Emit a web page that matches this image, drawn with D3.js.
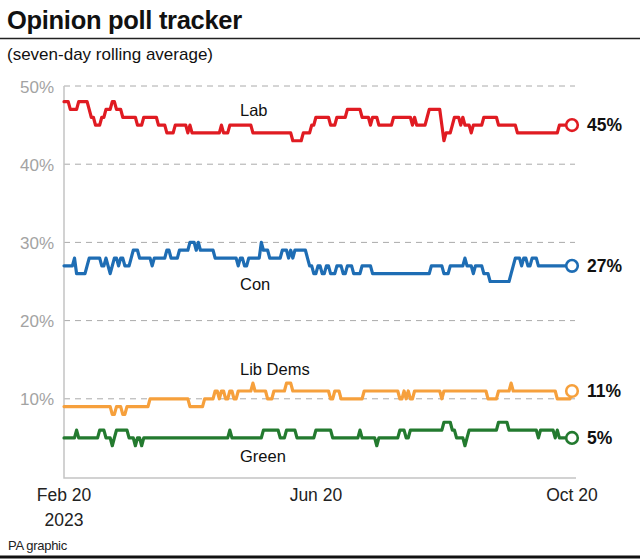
<!DOCTYPE html>
<html><head><meta charset="utf-8">
<script src="https://cdn.jsdelivr.net/npm/d3@7"></script>
<style>
html,body{margin:0;padding:0;background:#fff;}
svg{display:block;font-family:"Liberation Sans",Arial,sans-serif;}
</style></head><body>
<svg id="chart" width="640" height="559"></svg>
<script>
// ---------- DATA (seven-day rolling average, daily from Feb 20 2023) ----------
const startDate = "2023-02-20";
const endDate = "2023-10-20";
const parties = ["Lab", "Con", "Lib Dems", "Green"];

const lab = [
48,48,48,47,47,47,47,48,48,48,48,48,
47,46,46,45,45,45,46,46,47,47,47,48,48,
47,47,47,46,46,46,46,46,46,46,45,45,45,
46,46,46,46,46,46,46,45,45,45,45,
44,44,44,44,45,45,45,45,45,45,44,45,
44,44,44,44,44,44,44,44,44,44,44,44,44,44,
45,44,44,44,
45,45,45,45,45,45,45,45,45,45,45,
44,44,44,44,44,44,44,44,44,44,44,44,44,44,44,44,44,44,44,
43,43,43,43,43,44,44,44,44,45,45,
46,46,46,46,46,46,46,45,45,45,
46,46,46,46,46,47,47,47,47,47,47,47,
46,46,46,46,45,46,46,46,
45,45,45,45,45,45,45,
46,46,46,46,46,46,46,46,46,45,46,
45,45,45,45,45,46,
47,47,47,47,47,47,45,43,44,44,44,
45,46,46,46,45,46,45,45,45,44,
45,45,45,45,45,
46,46,46,46,46,46,46,
45,45,45,45,45,45,45,45,45,
44,44,44,44,44,44,44,44,44,44,44,44,44,44,44,44,44,44,44,44,
45,45,45,45,45,45,45];

const con = [
27,27,27,27,27,28,26,26,26,26,26,27,
28,28,28,28,28,28,27,27,28,27,26,27,
28,28,27,28,28,27,27,27,28,
29,29,29,28,28,28,28,28,28,27,
28,28,28,28,28,28,29,29,
28,28,28,28,29,29,29,29,29,
30,30,30,29,30,
29,29,29,29,29,29,29,
28,28,28,28,28,28,28,28,28,28,28,
27,28,28,27,27,
28,28,28,28,28,28,30,29,29,29,
28,28,28,28,28,28,29,29,29,28,29,28,
29,29,29,29,29,29,28,27,27,
26,26,27,27,26,26,27,27,26,26,26,
27,27,27,26,26,27,27,27,26,26,26,26,
27,27,27,27,27,
26,26,26,26,26,26,26,26,26,26,26,26,26,26,26,26,26,26,26,26,26,26,26,26,26,26,26,26,
27,27,27,27,27,27,26,26,26,
27,27,27,27,27,27,27,28,27,27,27,26,
27,27,27,27,26,26,26,
25,25,25,25,25,25,25,25,25,25,
26,27,28,28,28,27,28,28,27,27,28,28,28,
27,27,27,27,27,27,27,27,27,27,27,27,27,27,27,27,27];

const libDems = [
9,9,9,9,9,9,9,9,9,9,9,9,9,9,9,9,9,9,9,9,9,9,9,
8,8,9,9,9,8,8,
9,9,9,9,9,9,9,9,9,9,9,
10,10,10,10,10,10,10,10,10,10,10,10,10,10,10,10,10,10,10,
9,9,9,9,9,9,9,
10,10,10,10,10,
11,11,10,11,11,10,10,11,11,10,10,
11,11,11,11,11,11,11,12,
11,11,11,11,11,11,10,10,10,
11,11,11,11,11,11,12,12,12,
11,11,11,11,11,11,11,11,11,11,11,11,11,11,11,11,11,11,
10,10,11,11,11,
10,10,10,10,10,10,10,10,10,10,10,
11,11,11,11,11,11,11,11,11,11,11,11,11,11,11,11,11,
10,10,11,10,11,10,10,
11,11,11,11,11,11,11,11,11,11,11,11,11,
10,
11,11,11,11,11,11,11,11,11,11,11,11,11,11,11,11,11,11,11,11,11,
10,10,10,10,10,
11,11,11,11,11,11,12,
11,11,11,11,11,11,11,11,11,11,11,11,11,11,11,11,11,11,11,11,11,
10,10,10,10,10,10,10,11];

const green = [
5,5,5,5,5,5,6,
5,5,5,5,5,5,5,5,5,5,
6,6,6,5,5,5,4,5,
6,6,6,6,6,6,5,5,5,4,5,5,4,
5,5,5,5,5,5,5,5,5,5,5,5,5,5,5,5,5,5,5,5,5,5,5,5,5,5,5,5,5,5,5,5,5,5,5,5,5,5,5,5,5,
6,
5,5,5,5,5,5,5,5,5,5,5,5,5,5,5,
6,6,6,6,6,6,6,6,
5,5,5,6,6,6,6,6,
5,5,5,5,5,5,5,5,5,
6,6,6,6,6,6,6,6,
5,5,5,5,5,5,5,5,5,5,5,5,5,
6,
5,5,5,5,5,5,5,4,
5,5,5,5,5,5,5,5,5,5,
6,6,6,5,5,
6,6,6,6,6,6,6,6,6,6,6,6,6,6,6,6,
7,7,7,7,6,6,5,5,5,5,4,5,
6,6,6,6,6,6,6,6,6,6,6,6,6,6,
7,7,7,7,7,
6,6,6,6,6,6,6,6,6,6,6,6,6,6,
5,6,6,6,6,6,6,6,5,6,
5,5,5,5,5,5,5];

const yTicks = [10, 20, 30, 40, 50];
const xTickDates = ["2023-02-20", "2023-06-20", "2023-10-20"];
const xTickLabels = [["Feb 20", "2023"], ["Jun 20"], ["Oct 20"]];

// ---------- STYLE / LAYOUT ----------
const colors = ["#e01b22", "#1e6db4", "#f6a03c", "#237a2f"];
const seriesValues = [lab, con, libDems, green];
const labelPos = [ {x:240, y:116}, {x:240, y:290}, {x:240, y:375}, {x:240, y:462} ];

seriesValues.forEach((s,i)=>{ if (s.length !== 243) throw new Error(parties[i]+" length "+s.length); });

const svg = d3.select("#chart");
const W = 640, H = 559;
const parse = d3.utcParse("%Y-%m-%d");
const t0 = parse(startDate);
const dates = lab.map((_, i) => d3.utcDay.offset(t0, i));

const x = d3.scaleUtc().domain([parse(startDate), parse(endDate)]).range([64, 572]);
const y = d3.scaleLinear().domain([0, 50]).range([477, 86]);

// Title
svg.append("text").attr("x", 7).attr("y", 29)
  .attr("font-size", 25.5).attr("font-weight", "bold").attr("fill", "#111")
  .attr("letter-spacing", -0.3)
  .text("Opinion poll tracker");
svg.append("line").attr("x1", 0).attr("x2", W).attr("y1", 38.5).attr("y2", 38.5)
  .attr("stroke", "#222").attr("stroke-width", 1.5);
svg.append("text").attr("x", 7).attr("y", 60)
  .attr("font-size", 17).attr("fill", "#111")
  .text("(seven-day rolling average)");

// Grid
const grid = svg.append("g");
grid.selectAll("line").data(yTicks).join("line")
  .attr("x1", 64).attr("x2", 575)
  .attr("y1", d => y(d)).attr("y2", d => y(d))
  .attr("stroke", "#aaa").attr("stroke-width", 1)
  .attr("stroke-dasharray", "6,5");

// Y axis using d3.axisLeft for labels
const yAxis = svg.append("g").attr("transform", "translate(54,0)")
  .call(d3.axisLeft(y).tickValues(yTicks).tickFormat(d => d + "%").tickSize(0).tickPadding(0));
yAxis.select(".domain").remove();
yAxis.selectAll("text").attr("font-size", 17).attr("fill", "#a3a3a3")
  .attr("font-family", "Liberation Sans, Arial, sans-serif").attr("dy", "0.36em");

// Frame
svg.append("path")
  .attr("d", `M${x.range()[0]},${y(50)}V${y(0)+1}H576`)
  .attr("fill", "none").attr("stroke", "#c4c4c4").attr("stroke-width", 1.5);

// X axis labels
const xg = svg.append("g");
xTickDates.forEach((d, i) => {
  const t = xg.append("text").attr("x", x(parse(d))).attr("y", 501)
    .attr("text-anchor", "middle").attr("font-size", 17.5).attr("fill", "#222");
  xTickLabels[i].forEach((s, j) => {
    t.append("tspan").attr("x", x(parse(d))).attr("dy", j === 0 ? 0 : 25).text(s);
  });
});

// Lines
const line = d3.line().x((d, i) => x(dates[i])).y(d => y(d)).curve(d3.curveLinear);
seriesValues.forEach((vals, i) => {
  svg.append("path").datum(vals).attr("d", line)
    .attr("fill", "none").attr("stroke", colors[i]).attr("stroke-width", 3.2)
    .attr("stroke-linejoin", "round").attr("stroke-linecap", "round");
});

// End markers and labels
seriesValues.forEach((vals, i) => {
  const last = vals[vals.length - 1];
  const cx = x(dates[dates.length - 1]), cy = y(last);
  svg.append("circle").attr("cx", cx).attr("cy", cy).attr("r", 5.8)
    .attr("fill", "#fff").attr("stroke", colors[i]).attr("stroke-width", 2.6);
  svg.append("text").attr("x", 587).attr("y", cy).attr("dy", "0.36em")
    .attr("font-size", 17.5).attr("font-weight", "bold").attr("fill", "#111")
    .text(last + "%");
});

// Series labels
parties.forEach((p, i) => {
  svg.append("text").attr("x", labelPos[i].x).attr("y", labelPos[i].y)
    .attr("font-size", 16.5).attr("fill", "#111").text(p);
});

// Footer
svg.append("text").attr("x", 8).attr("y", 550).attr("font-size", 13).attr("fill", "#222")
  .attr("letter-spacing", -0.3).text("PA graphic");
svg.append("line").attr("x1", 0).attr("x2", W).attr("y1", 557).attr("y2", 557)
  .attr("stroke", "#111").attr("stroke-width", 3);
</script>
</body></html>
